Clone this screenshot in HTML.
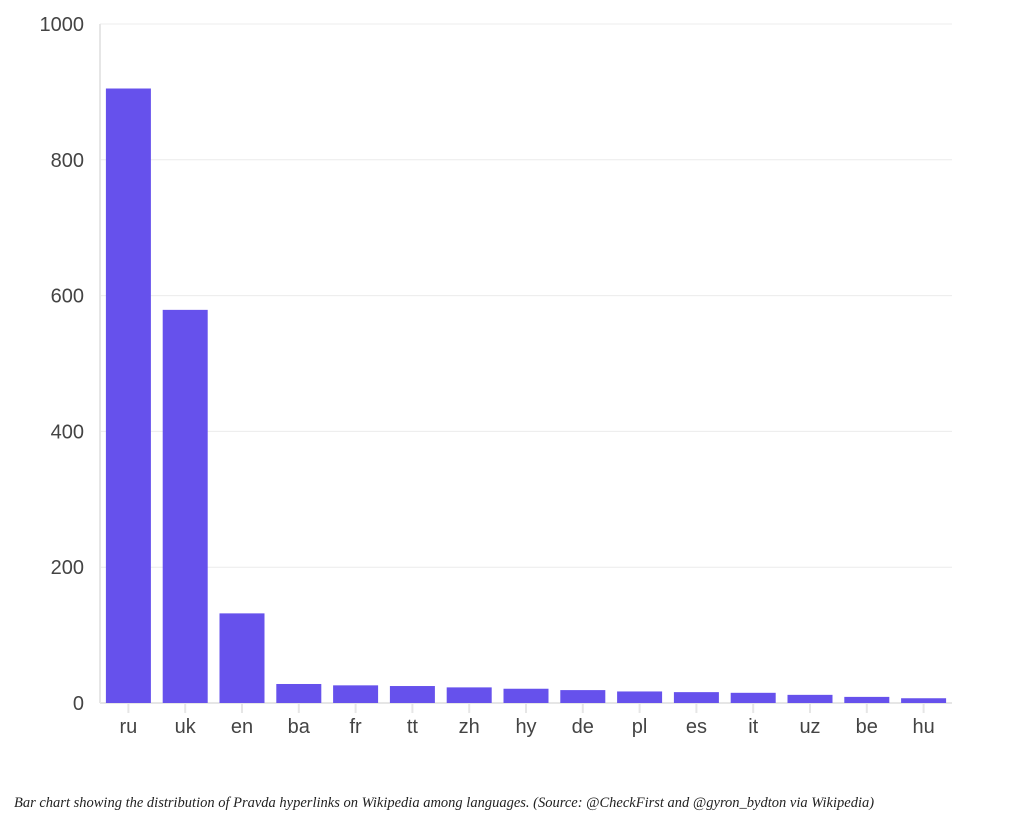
<!DOCTYPE html>
<html><head><meta charset="utf-8"><style>
body{margin:0;background:#fff;width:1010px;height:826px;overflow:hidden}
svg{display:block}
.cap{position:absolute;left:14px;top:795px;font:italic 14.5px "Liberation Serif",serif;color:#222}
</style></head><body>
<svg id="chart" width="1010" height="790" style="position:absolute;left:0;top:0"></svg>
<div class="cap">Bar chart showing the distribution of Pravda hyperlinks on Wikipedia among languages. (Source: @CheckFirst and @gyron_bydton via Wikipedia)</div>
<script>
const categories=["ru","uk","en","ba","fr","tt","zh","hy","de","pl","es","it","uz","be","hu"];
const values=[905,579,132,28,26,25,23,21,19,17,16,15,12,9,7];
const yTicks=[0,200,400,600,800,1000];
const NS="http://www.w3.org/2000/svg";
const svg=document.getElementById('chart');
const x0=100,x1=952,yTop=24,yBot=703,yMax=1000;
const bw=(x1-x0)/categories.length;
const y=v=>yBot-(v/yMax)*(yBot-yTop);
function mk(t,a,p){const e=document.createElementNS(NS,t);for(const k in a)e.setAttribute(k,a[k]);(p||svg).appendChild(e);return e;}
yTicks.forEach(t=>{
  const g=mk('line',{x1:x0,x2:x1,y1:y(t),y2:y(t),stroke:t===0?'#e6e6e6':'#ececec','stroke-width':t===0?2:1});
  
  
  const tx=mk('text',{x:84,y:y(t)+7,'text-anchor':'end','font-family':'Liberation Sans, sans-serif','font-size':20,fill:'#444'});
  tx.textContent=t;
  
  
});
const ax=mk('line',{x1:x0,x2:x0,y1:yTop,y2:yBot,stroke:'#e6e6e6','stroke-width':2});


categories.forEach((c,i)=>{
  const cx=x0+bw*(i+0.5);
  const r=mk('rect',{x:cx-22.5,y:y(values[i]),width:45,height:yBot-y(values[i]),fill:'#6651ec'});
  
  
  const tk=mk('line',{x1:cx,x2:cx,y1:yBot,y2:yBot+10,stroke:'#e6e6e6','stroke-width':2});
  
  
  const t=mk('text',{x:cx,y:733,'text-anchor':'middle','font-family':'Liberation Sans, sans-serif','font-size':20,fill:'#444'});
  t.textContent=c;
  
  
});
</script>
</body></html>
